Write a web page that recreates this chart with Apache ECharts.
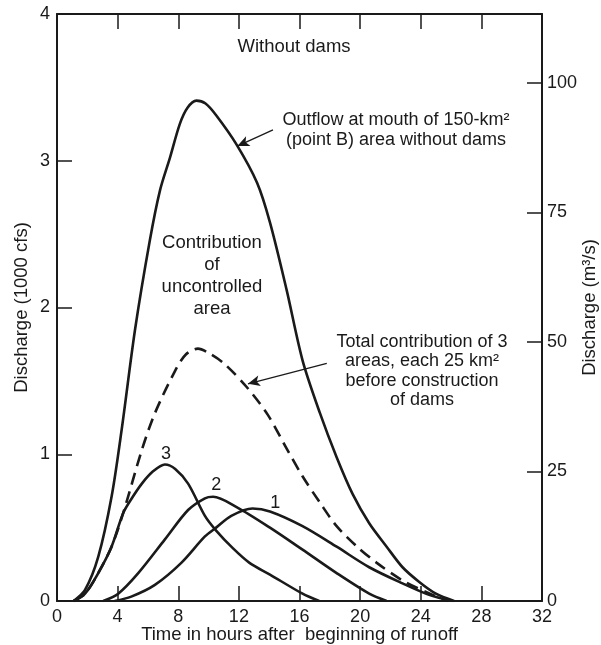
<!DOCTYPE html>
<html>
<head>
<meta charset="utf-8">
<script src="https://cdn.jsdelivr.net/npm/echarts@6/dist/echarts.min.js"></script>
<style>
  html, body { margin: 0; padding: 0; background: #fff; }
  #chart { width: 601px; height: 645px; }
</style>
</head>
<body>
<div id="chart"></div>
<script>
// hours after beginning of runoff, discharge in 1000 cfs
const outflow = [[1.1, 0], [1.85, 0.075], [2.72, 0.3], [3.6, 0.71], [4.27, 1.17], [5.15, 1.85], [6.13, 2.46],
  [6.8, 2.8], [7.45, 3.02], [8.1, 3.25], [8.6, 3.36], [9.2, 3.41], [9.8, 3.39], [10.5, 3.31], [11.85, 3.11],
  [13.2, 2.85], [14.05, 2.58], [15.15, 2.12], [16.2, 1.64], [17.35, 1.28], [18.45, 0.98], [19.5, 0.73],
  [20.6, 0.53], [21.75, 0.37], [22.8, 0.23], [23.9, 0.13], [25, 0.05], [26.2, 0]]
const total = [[1.1, 0], [1.85, 0.05], [2.72, 0.19], [3.6, 0.37], [4.37, 0.6], [5.6, 1.03], [6.46, 1.28],
  [7.8, 1.57], [8.5, 1.68], [9.3, 1.72], [10, 1.69], [11, 1.62], [12.5, 1.46], [13.9, 1.27], [15.2, 1.03],
  [16.2, 0.85], [17.35, 0.67], [18.45, 0.51], [19.8, 0.37], [21.1, 0.26], [22.8, 0.14], [24.6, 0.05], [25.8, 0]]
const area3 = [[1.1, 0], [1.85, 0.05], [2.72, 0.19], [3.6, 0.37], [4.37, 0.6], [5, 0.71], [5.6, 0.8],
  [6.3, 0.88], [7.12, 0.93], [7.8, 0.9], [8.65, 0.8], [9.76, 0.58], [10.5, 0.48], [11.6, 0.36], [12.7, 0.26],
  [14.05, 0.18], [16.2, 0.05], [17.3, 0]]
const area2 = [[3.05, 0], [4.04, 0.05], [5.36, 0.19], [7.12, 0.42], [8.65, 0.62], [9.76, 0.7], [10.3, 0.71],
  [11.85, 0.64], [14.05, 0.5], [16.2, 0.35], [18.45, 0.19], [20.6, 0.05], [21.75, 0]]
const area1 = [[3.8, 0], [4.9, 0.03], [6.46, 0.11], [8.2, 0.26], [9.76, 0.44], [10.5, 0.5], [11.5, 0.58],
  [12.9, 0.63], [14.05, 0.61], [16.2, 0.51], [18.45, 0.37], [20.6, 0.23], [22.8, 0.12], [24.6, 0.04], [26.1, 0]]
// label text, hour, discharge
const curveLabels = [['3', 7.2, 1.0], ['2', 10.5, 0.79], ['1', 14.4, 0.67]]
const cfsToCms = 28.317

const chart = echarts.init(document.getElementById('chart'))
const ink = '#1a1a1a'
const font = 'Liberation Sans'

const lineSeries = (data, dashed) => ({
  type: 'line',
  data: data,
  smooth: 0.3,
  showSymbol: false,
  silent: true,
  lineStyle: { color: ink, width: 2.6, type: dashed ? [12, 7] : 'solid' }
})

const arrow = (from, to) => ({
  silent: true,
  symbol: ['none', 'arrow'],
  symbolSize: [8, 12],
  label: { show: false },
  lineStyle: { color: ink, width: 1.3, type: 'solid', curveness: 0.08 },
  data: [[{ coord: from }, { coord: to }]]
})

const tag = (lbl) => ({
  silent: true,
  symbol: 'circle',
  symbolSize: 1,
  itemStyle: { color: 'rgba(0,0,0,0)' },
  label: { show: true, position: 'inside', formatter: lbl[0], color: ink, fontSize: 18, fontFamily: font },
  data: [{ coord: [lbl[1], lbl[2]] }]
})

const series = [
  lineSeries(outflow),
  lineSeries(total, true),
  lineSeries(area3),
  lineSeries(area2),
  lineSeries(area1)
]
series[0].markLine = arrow([14.25, 3.21], [11.9, 3.1])
series[1].markLine = arrow([17.8, 1.62], [12.6, 1.48])
series[2].markPoint = tag(curveLabels[0])
series[3].markPoint = tag(curveLabels[1])
series[4].markPoint = tag(curveLabels[2])

const axisText = { color: ink, fontSize: 18, fontFamily: font }
const nameText = { color: ink, fontSize: 18.5, fontFamily: font }
const line = { onZero: false, show: true, lineStyle: { color: ink, width: 2 } }
const tick = { show: true, inside: true, length: 15, lineStyle: { color: ink, width: 1.5 } }

const option = {
  backgroundColor: '#fff',
  animation: false,
  grid: { left: 57, right: 59, top: 14, bottom: 44, outerBoundsMode: 'none' },
  xAxis: [
    {
      type: 'value', min: 0, max: 32, interval: 4,
      name: 'Time in hours after  beginning of runoff',
      nameLocation: 'middle', nameGap: 24, nameMoveOverlap: false, nameTextStyle: nameText,
      axisLine: line, axisTick: tick,
      axisLabel: { ...axisText, margin: 7 },
      splitLine: { show: false }
    },
    {
      type: 'value', min: 0, max: 32, interval: 4, position: 'top',
      axisLine: line, axisTick: tick,
      axisLabel: { show: false },
      splitLine: { show: false }
    }
  ],
  yAxis: [
    {
      type: 'value', min: 0, max: 4, interval: 1,
      name: 'Discharge (1000 cfs)', nameLocation: 'middle', nameGap: 26, nameMoveOverlap: false,
      nameTextStyle: nameText,
      axisLine: line, axisTick: tick,
      axisLabel: { ...axisText, margin: 7 },
      splitLine: { show: false }
    },
    {
      type: 'value', min: 0, max: 4 * cfsToCms, interval: 25, position: 'right',
      name: 'Discharge (m³/s)', nameLocation: 'middle', nameGap: 38, nameRotate: 90, nameMoveOverlap: false,
      nameTextStyle: nameText,
      axisLine: line, axisTick: tick,
      axisLabel: { ...axisText, margin: 5, showMaxLabel: false },
      splitLine: { show: false }
    }
  ],
  graphic: [
    { type: 'text', x: 294, y: 37,
      style: { text: 'Without dams', fill: ink, font: `18.5px "${font}"`, textAlign: 'center' } },
    { type: 'text', x: 396, y: 110,
      style: { text: 'Outflow at mouth of 150-km²\n(point B) area without dams', fill: ink,
        font: `18px "${font}"`, textAlign: 'center', lineHeight: 20 } },
    { type: 'text', x: 212, y: 232,
      style: { text: 'Contribution\nof\nuncontrolled\narea', fill: ink,
        font: `18.5px "${font}"`, textAlign: 'center', lineHeight: 22 } },
    { type: 'text', x: 422, y: 332,
      style: { text: 'Total contribution of 3\nareas, each 25 km²\nbefore construction\nof dams', fill: ink,
        font: `18px "${font}"`, textAlign: 'center', lineHeight: 19.5 } }
  ],
  series: series
}
chart.setOption(option)
</script>
</body>
</html>
